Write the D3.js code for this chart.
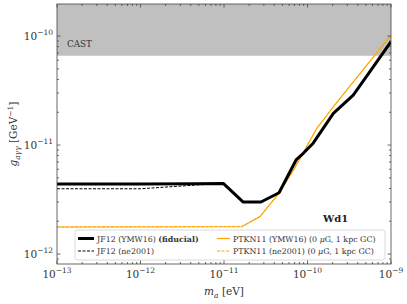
<!DOCTYPE html>
<html>
<head>
<meta charset="utf-8">
<script src="https://cdn.jsdelivr.net/npm/d3@7"></script>
<style>
  body { margin: 0; background: #fff; }
</style>
</head>
<body>
<div id="chart"></div>
<script>
// chart size
const width = 407;
const height = 304;
const margin = { top: 4, right: 16, bottom: 40, left: 57 };
const font = "'DejaVu Serif', serif";

// data (m_a in eV, g in GeV^-1)
const massJF12 = [1e-13, 1e-12, 4.7e-12, 9.8e-12, 1.7e-11, 2.77e-11, 4.56e-11, 7.3e-11, 8.9e-11, 1.17e-10, 2.04e-10, 3.53e-10, 6.1e-10, 1e-9];
const gJF12ymw = [4.39e-12, 4.4e-12, 4.42e-12, 4.45e-12, 3.0e-12, 3.0e-12, 3.65e-12, 7.3e-12, 8.4e-12, 1.04e-11, 1.95e-11, 2.87e-11, 5.2e-11, 8.9e-11];
const gJF12ne = [3.97e-12, 3.97e-12, 4.3e-12, 4.45e-12, 3.02e-12, 3.02e-12, 3.65e-12, 7.3e-12, 8.4e-12, 1.04e-11, 1.95e-11, 2.87e-11, 5.2e-11, 8.9e-11];
const massPTKN = [1e-13, 1.63e-11, 2.7e-11, 4.6e-11, 6.8e-11, 1.29e-10, 2.0e-10, 1e-9];
const gPTKNymw = [1.77e-12, 1.78e-12, 2.2e-12, 3.65e-12, 5.9e-12, 1.42e-11, 2.2e-11, 1.02e-10];
const gPTKNne = [1.77e-12, 1.79e-12, 2.22e-12, 3.66e-12, 5.9e-12, 1.42e-11, 2.2e-11, 1.02e-10];
const castLimit = 6.6e-11;
const xTicks = [-13, -12, -11, -10, -9];
const yTicks = [-12, -11, -10];

const svg = d3.select("#chart")
  .append("svg")
  .attr("width", width)
  .attr("height", height)
  .attr("font-family", font);

const x = d3.scaleLog()
  .domain([1e-13, 1e-9])
  .range([margin.left, width - margin.right]);

const y = d3.scaleLog()
  .domain([8.1e-13, 1.97e-10])
  .range([height - margin.bottom, margin.top]);

const x0 = margin.left, x1 = width - margin.right;
const y0 = height - margin.bottom, y1 = margin.top;

svg.append("defs").append("clipPath").attr("id", "clip")
  .append("rect")
  .attr("x", x0).attr("y", y1)
  .attr("width", x1 - x0).attr("height", y0 - y1);

const plot = svg.append("g").attr("clip-path", "url(#clip)");

// CAST band
plot.append("rect")
  .attr("x", x0)
  .attr("y", y1)
  .attr("width", x1 - x0)
  .attr("height", y(castLimit) - y1)
  .attr("fill", "#c0c0c0");

svg.append("text")
  .attr("x", x0 + 10)
  .attr("y", y(1e-10) + 11)
  .attr("font-size", 8.8)
  .attr("fill", "#333")
  .text("CAST");

const line = d3.line().x(d => x(d[0])).y(d => y(d[1]));

// curves
const series = [
  { m: massPTKN, g: gPTKNymw, color: "#ffa500", w: 1.2, dash: null },
  { m: massPTKN, g: gPTKNne, color: "#ffa500", w: 1, dash: "3,1.5" },
  { m: massJF12, g: gJF12ne, color: "#000", w: 1, dash: "3,1.5" },
  { m: massJF12, g: gJF12ymw, color: "#000", w: 3, dash: null }
];

series.forEach(s => {
  plot.append("path")
    .datum(d3.zip(s.m, s.g))
    .attr("d", line)
    .attr("fill", "none")
    .attr("stroke", s.color)
    .attr("stroke-width", s.w)
    .attr("stroke-dasharray", s.dash)
    .attr("stroke-linejoin", "round");
});

// Wd1 label
svg.append("text")
  .attr("x", 323)
  .attr("y", 222)
  .attr("font-size", 10)
  .attr("font-weight", "bold")
  .attr("fill", "#222")
  .text("Wd1");

// legend
const legend = svg.append("g");
legend.append("rect")
  .attr("x", 75).attr("y", 230)
  .attr("width", 310).attr("height", 30)
  .attr("rx", 2.5)
  .attr("fill", "#fff").attr("fill-opacity", 0.8)
  .attr("stroke", "#d0d0d0").attr("stroke-width", 0.8);

const legendItems = [
  { x: 78, y: 238.5, len: 16, color: "#000", w: 3, dash: null, label: ["JF12 (YMW16) ", "(fiducial)"] },
  { x: 78, y: 251, len: 16, color: "#000", w: 1, dash: "3,1.5", label: ["JF12 (ne2001)"] },
  { x: 217, y: 238.5, len: 13, color: "#ffa500", w: 1.2, dash: null, label: ["PTKN11 (YMW16) (0 ", "μ", "G, 1 kpc GC)"] },
  { x: 217, y: 251, len: 13, color: "#ffa500", w: 1, dash: "3,1.5", label: ["PTKN11 (ne2001) (0 ", "μ", "G, 1 kpc GC)"] }
];

legendItems.forEach(it => {
  legend.append("line")
    .attr("x1", it.x).attr("x2", it.x + it.len)
    .attr("y1", it.y).attr("y2", it.y)
    .attr("stroke", it.color)
    .attr("stroke-width", it.w)
    .attr("stroke-dasharray", it.dash);
  const t = legend.append("text")
    .attr("x", it.x + it.len + 3)
    .attr("y", it.y + 3)
    .attr("font-size", 7.9)
    .attr("fill", "#333");
  it.label.forEach(part => {
    const ts = t.append("tspan").text(part);
    if (part === "(fiducial)") ts.attr("font-weight", "bold");
    if (part === "μ") ts.attr("font-style", "italic");
  });
});

// frame
svg.append("rect")
  .attr("x", x0).attr("y", y1)
  .attr("width", x1 - x0).attr("height", y0 - y1)
  .attr("fill", "none")
  .attr("stroke", "#444")
  .attr("stroke-width", 0.8);

// ticks (inward, all four sides)
const ticks = svg.append("g").attr("stroke", "#444").attr("stroke-width", 0.8);
const minor = [2, 3, 4, 5, 6, 7, 8, 9];

xTicks.forEach(e => {
  const px = x(Math.pow(10, e));
  ticks.append("line").attr("x1", px).attr("x2", px).attr("y1", y0).attr("y2", y0 - 3.5);
  ticks.append("line").attr("x1", px).attr("x2", px).attr("y1", y1).attr("y2", y1 + 3.5);
  if (e < -9) {
    minor.forEach(k => {
      const mx = x(k * Math.pow(10, e));
      ticks.append("line").attr("x1", mx).attr("x2", mx).attr("y1", y0).attr("y2", y0 - 2);
      ticks.append("line").attr("x1", mx).attr("x2", mx).attr("y1", y1).attr("y2", y1 + 2);
    });
  }
});

[-13, -12, -11, -10].forEach(e => {
  const major = Math.pow(10, e);
  if (major >= y.domain()[0] && major <= y.domain()[1]) {
    const py = y(major);
    ticks.append("line").attr("x1", x0).attr("x2", x0 + 3.5).attr("y1", py).attr("y2", py);
    ticks.append("line").attr("x1", x1).attr("x2", x1 - 3.5).attr("y1", py).attr("y2", py);
  }
  minor.forEach(k => {
    const v = k * major;
    if (v >= y.domain()[0] && v <= y.domain()[1]) {
      const py = y(v);
      ticks.append("line").attr("x1", x0).attr("x2", x0 + 2).attr("y1", py).attr("y2", py);
      ticks.append("line").attr("x1", x1).attr("x2", x1 - 2).attr("y1", py).attr("y2", py);
    }
  });
});

// tick labels
xTicks.forEach(e => {
  const t = svg.append("text")
    .attr("x", x(Math.pow(10, e)))
    .attr("y", y0 + 14)
    .attr("text-anchor", "middle")
    .attr("font-size", 10.5)
    .attr("fill", "#333");
  t.append("tspan").text("10");
  t.append("tspan").attr("dy", -5).attr("font-size", 7.5).text("−" + Math.abs(e));
});

yTicks.forEach(e => {
  const t = svg.append("text")
    .attr("x", x0 - 4)
    .attr("y", y(Math.pow(10, e)) + 4)
    .attr("text-anchor", "end")
    .attr("font-size", 10.5)
    .attr("fill", "#333");
  t.append("tspan").text("10");
  t.append("tspan").attr("dy", -5).attr("font-size", 7.5).text("−" + Math.abs(e));
});

// axis labels
const xl = svg.append("text")
  .attr("x", (x0 + x1) / 2)
  .attr("y", 295)
  .attr("text-anchor", "middle")
  .attr("font-size", 10.5)
  .attr("fill", "#333");
xl.append("tspan").attr("font-style", "italic").text("m");
xl.append("tspan").attr("font-style", "italic").attr("font-size", 7.5).attr("dy", 2.5).text("a");
xl.append("tspan").attr("dy", -2.5).text(" [eV]");

const yl = svg.append("text")
  .attr("transform", `translate(17, ${(y0 + y1) / 2}) rotate(-90)`)
  .attr("text-anchor", "middle")
  .attr("font-size", 10.5)
  .attr("fill", "#333");
yl.append("tspan").attr("font-style", "italic").text("g");
yl.append("tspan").attr("font-style", "italic").attr("font-size", 7.5).attr("dy", 2.5).text("aγγ");
yl.append("tspan").attr("dy", -2.5).text(" [GeV");
yl.append("tspan").attr("font-size", 7.5).attr("dy", -4.5).text("−1");
yl.append("tspan").attr("dy", 4.5).text("]");
</script>
</body>
</html>
